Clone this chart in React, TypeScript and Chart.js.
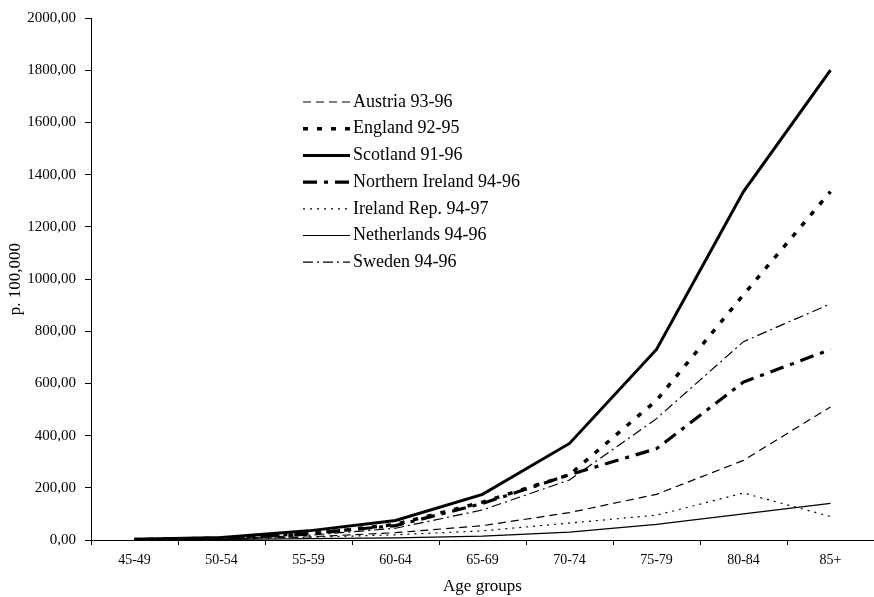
import React, { useEffect, useRef } from "react";
import { Chart, registerables } from "chart.js";

Chart.register(...registerables);

const categories = ["45-49", "50-54", "55-59", "60-64", "65-69", "70-74", "75-79", "80-84", "85+"];

const austria = [1, 4, 12, 28, 55, 105, 175, 305, 510];
const england = [2, 7, 22, 60, 145, 250, 535, 940, 1335];
const scotland = [3, 10, 35, 75, 175, 370, 730, 1335, 1800];
const northernIreland = [2, 6, 25, 55, 140, 250, 350, 605, 730];
const irelandRep = [1, 3, 10, 20, 35, 65, 95, 180, 90];
const netherlands = [1, 2, 5, 8, 15, 30, 60, 100, 140];
const sweden = [1, 5, 18, 45, 115, 230, 465, 760, 905];

const seriesNames = [
  "Austria 93-96",
  "England 92-95",
  "Scotland 91-96",
  "Northern Ireland 94-96",
  "Ireland Rep. 94-97",
  "Netherlands 94-96",
  "Sweden 94-96",
];

const FONT = "'Liberation Serif', 'Times New Roman', serif";

const styles = [
  { width: 1.2, dash: [8, 5] },
  { width: 3.5, dash: [5, 9] },
  { width: 3, dash: [] as number[] },
  { width: 3.2, dash: [14, 7, 4, 7] },
  { width: 1.2, dash: [2, 5] },
  { width: 1.2, dash: [] as number[] },
  { width: 1.2, dash: [10, 4, 2, 4] },
];

const legendPlugin = {
  id: "insideLegend",
  afterDraw(chart: any) {
    const ctx = chart.ctx;
    ctx.save();
    chart.data.datasets.forEach((ds: any, i: number) => {
      const y = 102 + i * 26.7;
      ctx.beginPath();
      ctx.strokeStyle = "#000";
      ctx.lineWidth = ds.borderWidth;
      ctx.setLineDash(ds.borderDash || []);
      ctx.moveTo(303, y);
      ctx.lineTo(350, y);
      ctx.stroke();
      ctx.setLineDash([]);
      ctx.fillStyle = "#000";
      ctx.font = `18px ${FONT}`;
      ctx.textBaseline = "middle";
      ctx.textAlign = "left";
      ctx.fillText(ds.label, 353, y);
    });
    ctx.restore();
  },
};

export default function App() {
  const ref = useRef<HTMLCanvasElement>(null);

  useEffect(() => {
    if (!ref.current) return;
    const allData = [austria, england, scotland, northernIreland, irelandRep, netherlands, sweden];
    const chart = new Chart(ref.current, {
      type: "line",
      data: {
        labels: categories,
        datasets: allData.map((d, i) => ({
          label: seriesNames[i],
          data: d,
          borderColor: "#000",
          backgroundColor: "#000",
          borderWidth: styles[i].width,
          borderDash: styles[i].dash,
          pointRadius: 0,
          tension: 0,
          fill: false,
        })),
      },
      options: {
        animation: false,
        responsive: false,
        layout: { padding: { top: 15, right: 0, left: 0, bottom: 0 } },
        plugins: {
          legend: { display: false },
          tooltip: { enabled: false },
        },
        scales: {
          x: {
            offset: true,
            afterFit: (s: any) => {
              s.height = 57;
            },
            grid: {
              drawOnChartArea: false,
              drawTicks: true,
              tickLength: 5,
              color: "#000",
              offset: true,
            },
            border: { color: "#000", width: 1 },
            ticks: {
              color: "#000",
              font: { family: FONT, size: 14 },
              padding: 7,
              maxRotation: 0,
            },
            title: {
              display: true,
              text: "Age groups",
              color: "#000",
              font: { family: FONT, size: 17 },
              padding: { top: 0, bottom: 0 },
            },
          },
          y: {
            min: 0,
            max: 2000,
            afterFit: (s: any) => {
              s.width = 91;
            },
            grid: {
              drawOnChartArea: false,
              drawTicks: true,
              tickLength: 6,
              color: "#000",
            },
            border: { color: "#000", width: 1 },
            ticks: {
              stepSize: 200,
              color: "#000",
              font: { family: FONT, size: 15 },
              padding: 9,
              callback: (v: any) => Number(v).toFixed(2).replace(".", ","),
            },
            title: {
              display: true,
              text: "p. 100,000",
              color: "#000",
              font: { family: FONT, size: 17 },
              padding: { top: 5, bottom: 0 },
            },
          },
        },
      },
      plugins: [legendPlugin],
    });
    return () => chart.destroy();
  }, []);

  return (
    <div style={{ position: "fixed", left: 0, top: 0, width: 874, height: 597, background: "#fff" }}>
      <canvas ref={ref} width={874} height={597} />
    </div>
  );
}
